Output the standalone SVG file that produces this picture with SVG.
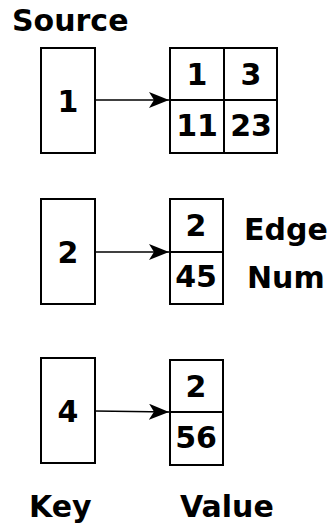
<svg xmlns="http://www.w3.org/2000/svg" width="331" height="529" viewBox="0 0 331 529">
  <style>
    .box { fill: #ffffff; stroke: #000000; stroke-width: 2; }
    .div { fill: none; stroke: #000000; stroke-width: 2; }
    .edge { fill: none; stroke: #000000; stroke-width: 1.5; }
    text { font-family: "DejaVu Sans", "Liberation Sans", sans-serif; font-weight: bold; font-size: 30px; fill: #000000; }
    .c { text-anchor: middle; }
  </style>
  <defs>
    <marker id="arrow" viewBox="0 0 20 16" refX="20" refY="8" markerWidth="20" markerHeight="16" markerUnits="userSpaceOnUse" orient="auto">
      <path d="M0,0 L20,8 L0,16 L5,8 Z" fill="#000000"/>
    </marker>
  </defs>
  <rect width="331" height="529" fill="#ffffff"/>

  <text id="label-source" x="12" y="31">Source</text>

  <g id="key1">
    <rect class="box" x="41" y="48" width="54" height="105"/>
    <text class="c" x="68" y="111.5">1</text>
  </g>
  <g id="key2">
    <rect class="box" x="41" y="199" width="54" height="105"/>
    <text class="c" x="68" y="262.5">2</text>
  </g>
  <g id="key4">
    <rect class="box" x="41" y="358" width="54" height="105"/>
    <text class="c" x="68" y="421.5">4</text>
  </g>

  <g id="value1">
    <rect class="box" x="170" y="48" width="107" height="105"/>
    <line class="div" x1="170" y1="100" x2="277" y2="100"/>
    <line class="div" x1="224" y1="48" x2="224" y2="153"/>
    <text class="c" x="197" y="85">1</text>
    <text class="c" x="251" y="85">3</text>
    <text class="c" x="197" y="136">11</text>
    <text class="c" x="251" y="136">23</text>
  </g>
  <g id="value2">
    <rect class="box" x="170" y="199" width="53" height="105"/>
    <line class="div" x1="170" y1="252" x2="223" y2="252"/>
    <text class="c" x="196" y="236">2</text>
    <text class="c" x="196" y="287">45</text>
  </g>
  <g id="value4">
    <rect class="box" x="170" y="360" width="53" height="105"/>
    <line class="div" x1="170" y1="412" x2="223" y2="412"/>
    <text class="c" x="196" y="397">2</text>
    <text class="c" x="196" y="448">56</text>
  </g>

  <g id="connectors">
    <line class="edge" x1="95" y1="100" x2="169" y2="100" marker-end="url(#arrow)"/>
    <line class="edge" x1="95" y1="252" x2="169" y2="252" marker-end="url(#arrow)"/>
    <line class="edge" x1="95" y1="411" x2="169" y2="412" marker-end="url(#arrow)"/>
  </g>

  <text id="label-edge" x="244" y="240">Edge</text>
  <text id="label-num" x="247" y="288">Num</text>
  <text id="label-key" x="29" y="517">Key</text>
  <text id="label-value" x="180" y="517">Value</text>
</svg>
